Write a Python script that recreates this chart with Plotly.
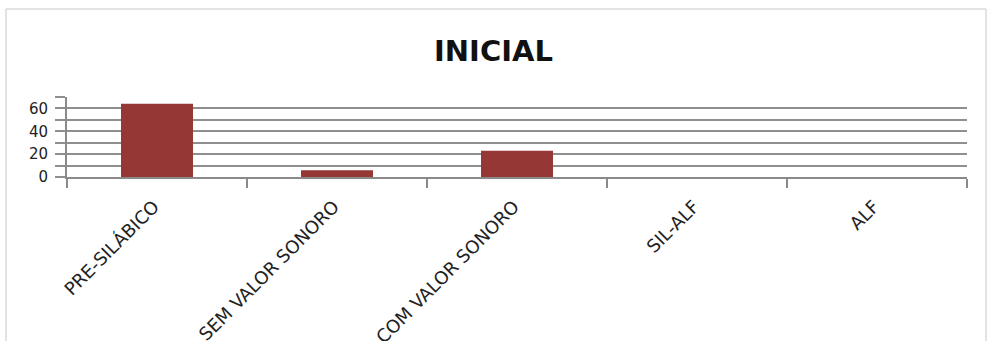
import plotly.graph_objects as go

categories = ["PRE-SILÁBICO", "SEM VALOR SONORO", "COM VALOR SONORO", "SIL-ALF", "ALF"]
values = [64, 6, 23, 0, 0]
y_tickvals = [0, 10, 20, 30, 40, 50, 60, 70]
y_ticktext = ["0", "", "20", "", "40", "", "60", ""]
title_text = "INICIAL"

W, H = 987, 341
L, R, T, B = 67, 20, 97, 164
FONT = "DejaVu Sans"

fig = go.Figure(go.Bar(x=categories, y=values, marker_color="#953735",
                       marker_line_width=0, width=0.4))

fig.update_layout(
    width=W, height=H,
    margin=dict(l=L, r=R, t=T, b=B, pad=0, autoexpand=False),
    paper_bgcolor="white", plot_bgcolor="white",
    showlegend=False,
    title=dict(text="<b>" + title_text + "</b>", x=0.5, xref="container", xanchor="center",
               y=1 - 51 / H, yref="container", yanchor="middle",
               font=dict(family=FONT, size=29, color="#111111")),
    font=dict(family=FONT, color="#222222"),
)
fig.update_xaxes(
    type="category", showgrid=False, showline=True, linecolor="#8a8a8a", linewidth=2,
    tickson="boundaries", ticks="outside", ticklen=9, tickwidth=2, tickcolor="#8a8a8a",
    tickangle=-45, tickfont=dict(family=FONT, size=18, color="#222222"),
    ticklabelstandoff=10, ticklabelshift=-3, automargin=False,
    range=[-0.5, 4.5],
)
fig.update_yaxes(
    range=[0, 70], tickvals=y_tickvals, ticktext=y_ticktext,
    showgrid=True, gridcolor="#8f8f8f", gridwidth=2,
    showline=True, linecolor="#8a8a8a", linewidth=2,
    ticks="outside", ticklen=10, tickwidth=2, tickcolor="#8f8f8f",
    tickfont=dict(family=FONT, size=15, color="#222222"),
    ticklabelstandoff=4, automargin=False,
    zeroline=False,
)
# outer chart border
pw, ph = W - L - R, H - T - B
y_bottom_px = H - B  # pixel row of plot bottom
fig.add_shape(type="rect", xref="paper", yref="paper",
              x0=(6 - L) / pw, x1=(986 - L) / pw,
              y0=(y_bottom_px - (H + 20)) / ph, y1=(y_bottom_px - 9) / ph,
              line=dict(color="#c8c8c8", width=1), fillcolor="rgba(0,0,0,0)", layer="below")
fig.write_html("out.html")
